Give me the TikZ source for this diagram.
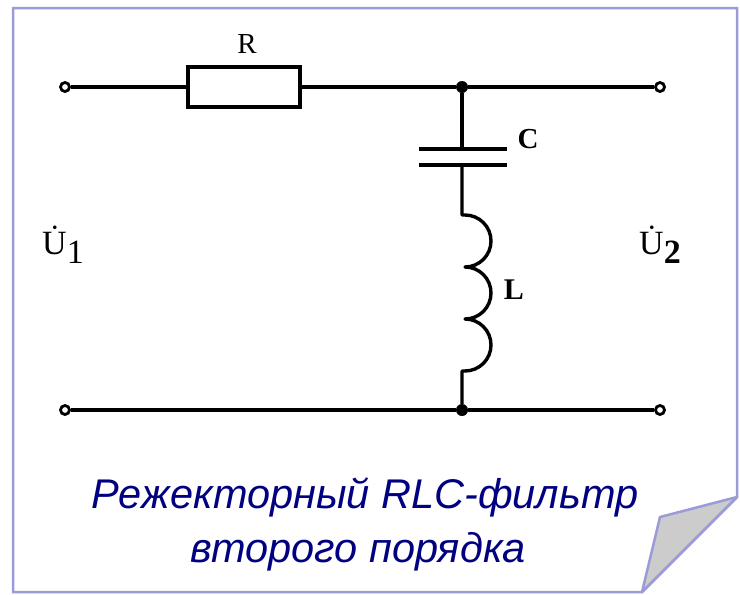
\documentclass[tikz,border=0pt]{standalone}
\usepackage{fontspec}
\setmainfont{Liberation Serif}
\newfontfamily\captfont{Liberation Sans}
\usetikzlibrary{positioning}
\definecolor{framecol}{RGB}{155,155,215}
\definecolor{foldcol}{RGB}{204,204,204}
\definecolor{captcol}{RGB}{0,0,128}

\begin{document}
\begin{tikzpicture}[x=1pt,y=-1pt]
\tikzstyle{every node}=[font=\fontsize{29}{32}\selectfont]
\tikzstyle{wire}=[line width=3.4pt,line join=round]
\tikzstyle{terminal}=[circle,draw,line width=2.8pt,fill=white,inner sep=0pt,minimum size=9pt]
\tikzstyle{junction}=[circle,fill,inner sep=0pt,minimum size=12pt]
\tikzstyle{caption}=[font=\captfont\itshape\fontsize{41.5}{54}\selectfont,text=captcol,anchor=base]
\useasboundingbox (0,0) rectangle (740,595);

% sheet with folded corner
\draw[framecol,line width=2.5pt,fill=white] (13,8) -- (737,8) -- (737,497) -- (642,592) -- (13,592) -- cycle;
\draw[framecol,line width=2.5pt,fill=foldcol,line join=round] (737,497) -- (660,517) -- (642,592) -- cycle;

% terminals and nodes
\node[terminal] (in1) at (65,87) {};
\node[terminal] (out1) at (660,87) {};
\node[terminal] (in2) at (65,410) {};
\node[terminal] (out2) at (660,410) {};
\node[junction] (top) at (462,87) {};
\node[junction] (bot) at (462,410) {};

% R
\node[draw,line width=3.6pt,minimum width=112pt,minimum height=40pt,inner sep=0pt] (res) at (244,87) {};
\node (lR) at (247,44) {R};

% C
\coordinate (c1) at (462,149);
\coordinate (c2) at (462,165);
\draw[line width=4pt] (419,149) -- (507,149);
\draw[line width=4pt] (419,165) -- (507,165);
\node[font=\bfseries\fontsize{29}{32}\selectfont] (lC) at (528,139) {C};

% L
\coordinate (l0) at (462,215);
\coordinate (l3) at (462,371);
\node[font=\bfseries\fontsize{30}{32}\selectfont] (lL) at (514,290) {L};

\draw[wire] (in1) -- (res) -- (top) -- (out1);
\draw[wire] (in2) -- (bot) -- (out2);
\draw[wire] (top) -- (c1);
\draw[wire] (c2) -- (l0) -- ++(3,0)
  arc[start angle=-90,end angle=90,radius=26]
  arc[start angle=-90,end angle=90,radius=26]
  arc[start angle=-90,end angle=90,radius=26] -- (l3) -- (bot);

% voltages
\node[font=\fontsize{34}{36}\selectfont] (u1) at (63,245) {\.{U}\raisebox{-9pt}{1}};
\node[font=\fontsize{34}{36}\selectfont] (u2) at (660,245) {\.{U}\raisebox{-9pt}{\textbf{2}}};

% caption
\node[caption] (cap1) at (365,508) {Режекторный RLC-фильтр};
\node[caption] (cap2) at (358,562) {второго порядка};
\end{tikzpicture}
\end{document}
